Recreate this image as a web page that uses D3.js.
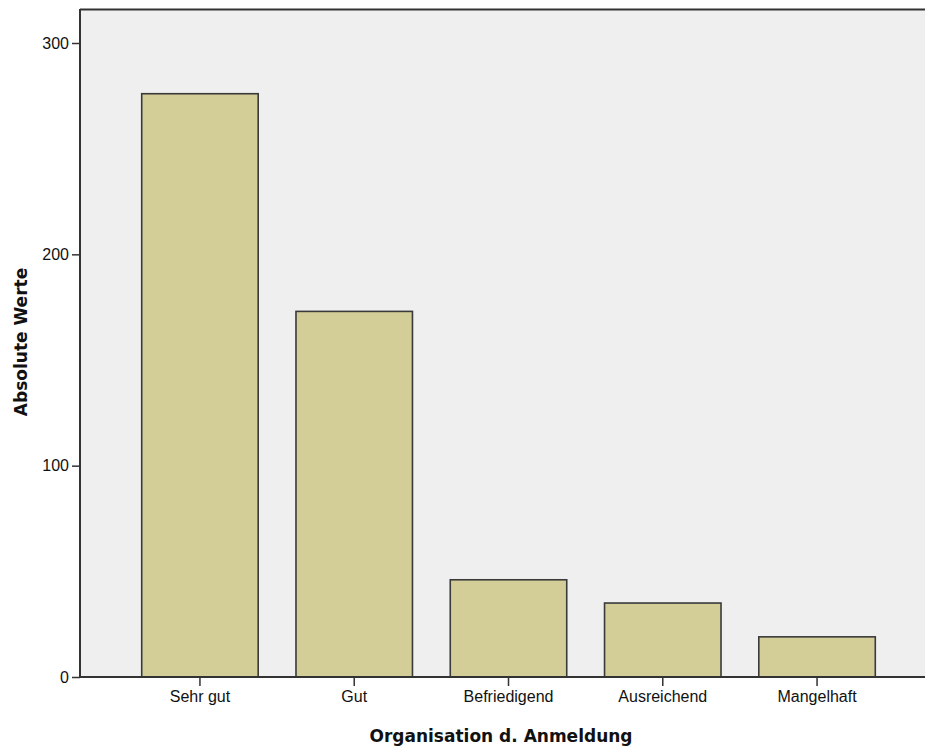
<!DOCTYPE html>
<html><head><meta charset="utf-8">
<script src="https://cdn.jsdelivr.net/npm/d3@7"></script>
<style>body{margin:0;background:#fff}svg{display:block}</style>
</head><body>
<script>
const categories = ["Sehr gut", "Gut", "Befriedigend", "Ausreichend", "Mangelhaft"];
const values = [276, 173, 46, 35, 19];
const yTicks = [0, 100, 200, 300];
const xTitle = "Organisation d. Anmeldung";
const yTitle = "Absolute Werte";

(function () {
const W = 925, H = 749;
const pLeft = 80, pTop = 9, pBottom = 677, pRight = 937;

const svg = d3.select("body").append("svg").attr("width", W).attr("height", H);

const x = d3.scaleBand().domain(categories).range([pLeft, pRight]).paddingInner(0.245).paddingOuter(0.4);
const y = d3.scaleLinear().domain([0, 300]).range([pBottom, 43]);

svg.append("rect").attr("x", pLeft).attr("y", pTop).attr("width", pRight - pLeft).attr("height", pBottom - pTop).attr("fill", "#efefef");
svg.append("line").attr("x1", pLeft).attr("x2", pRight).attr("y1", pTop + 0.5).attr("y2", pTop + 0.5).attr("stroke", "#333").attr("stroke-width", 2);

svg.selectAll("rect.bar").data(values).enter().append("rect").attr("class", "bar")
  .attr("x", (d, i) => x(categories[i]))
  .attr("y", d => y(d))
  .attr("width", x.bandwidth())
  .attr("height", d => pBottom - y(d))
  .attr("fill", "#d3ce97").attr("stroke", "#3a3a3a").attr("stroke-width", 1.6);

const yAxis = d3.axisLeft(y).tickValues(yTicks).tickSize(8).tickPadding(3).tickFormat(d3.format("d"));
const gy = svg.append("g").attr("transform", `translate(${pLeft},0)`).call(yAxis);
gy.select(".domain").remove();
gy.append("line").attr("x1", 0).attr("x2", 0).attr("y1", pTop).attr("y2", pBottom).attr("stroke", "#333").attr("stroke-width", 2);
gy.selectAll(".tick line").attr("stroke", "#333").attr("stroke-width", 1.5);
gy.selectAll(".tick text").attr("fill", "#111").style("font-family", "'Liberation Sans', Arial, sans-serif").style("font-size", "16px");

const xAxis = d3.axisBottom(x).tickSize(9).tickPadding(5);
const gx = svg.append("g").attr("transform", `translate(0,${pBottom})`).call(xAxis);
gx.select(".domain").remove();
gx.append("line").attr("x1", pLeft).attr("x2", pRight).attr("y1", 0).attr("y2", 0).attr("stroke", "#333").attr("stroke-width", 2);
gx.selectAll(".tick line").attr("stroke", "#333").attr("stroke-width", 1.5);
gx.selectAll(".tick text").attr("fill", "#111").style("font-family", "'Liberation Sans', Arial, sans-serif").style("font-size", "16px");

svg.append("text").attr("x", 501).attr("y", 742).attr("text-anchor", "middle")
  .style("font-family", "'DejaVu Sans', sans-serif").style("font-weight", "bold").style("font-size", "17px").attr("fill", "#111")
  .text(xTitle);
svg.append("text").attr("transform", "translate(27,342) rotate(-90)").attr("text-anchor", "middle")
  .style("font-family", "'DejaVu Sans', sans-serif").style("font-weight", "bold").style("font-size", "17px").attr("fill", "#111")
  .text(yTitle);
})();
</script>
</body></html>
